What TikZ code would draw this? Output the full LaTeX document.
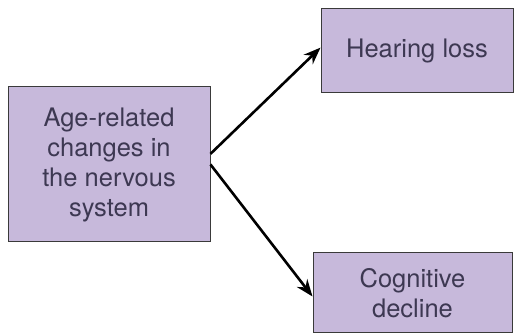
\documentclass[tikz,border=0pt]{standalone}
\usepackage{fontspec}
\setmainfont{TeX Gyre Heros}
\usetikzlibrary{arrows.meta}
\definecolor{boxfill}{HTML}{C7B9DB}
\definecolor{boxtext}{HTML}{3D3852}
\definecolor{boxedge}{HTML}{3A3A3A}
\begin{document}
\begin{tikzpicture}[x=1pt,y=1pt,
    box/.style={draw=boxedge,line width=1pt,fill=boxfill,text=boxtext,
      align=center,inner sep=0pt,font=\fontsize{25.5}{30}\selectfont},
    link/.style={line width=2.6pt,-{Stealth[length=17pt,width=13pt]}}]
  \useasboundingbox (0,0) rectangle (514,334);
  \node[box,minimum width=202pt,minimum height=155pt] (age) at (109,169.5)
    {Age-related\\changes in\\the nervous\\system};
  \node[box,minimum width=192pt,minimum height=84pt] (hear) at (417,283)
    {Hearing loss};
  \node[box,minimum width=199pt,minimum height=80pt] (cog) at (412.5,41)
    {Cognitive\\decline};
  \path[draw,link] (age.6) -- (hear.178);
  \path[draw,link] (age.east) -- (cog.182);
\end{tikzpicture}
\end{document}
